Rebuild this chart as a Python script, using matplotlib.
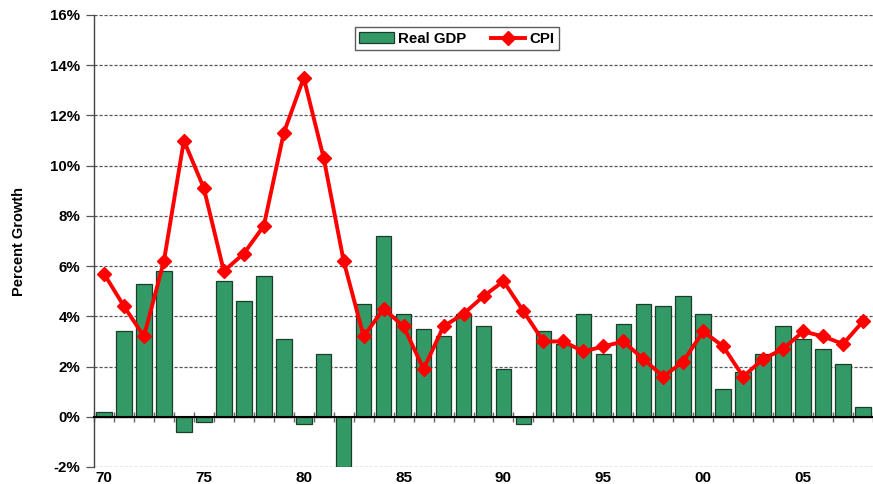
import matplotlib
matplotlib.use("Agg")
import matplotlib.pyplot as plt
import numpy as np

years = list(range(1970, 2009))
real_gdp = [0.2, 3.4, 5.3, 5.8, -0.6, -0.2, 5.4, 4.6, 5.6, 3.1,
            -0.3, 2.5, -2.0, 4.5, 7.2, 4.1, 3.5, 3.2, 4.1, 3.6,
            1.9, -0.3, 3.4, 2.9, 4.1, 2.5, 3.7, 4.5, 4.4, 4.8,
            4.1, 1.1, 1.8, 2.5, 3.6, 3.1, 2.7, 2.1, 0.4]
cpi = [5.7, 4.4, 3.2, 6.2, 11.0, 9.1, 5.8, 6.5, 7.6, 11.3,
       13.5, 10.3, 6.2, 3.2, 4.3, 3.6, 1.9, 3.6, 4.1, 4.8,
       5.4, 4.2, 3.0, 3.0, 2.6, 2.8, 3.0, 2.3, 1.6, 2.2,
       3.4, 2.8, 1.6, 2.3, 2.7, 3.4, 3.2, 2.9, 3.8]
xtick_years = [1970, 1975, 1980, 1985, 1990, 1995, 2000, 2005]
xtick_labels = ["70", "75", "80", "85", "90", "95", "00", "05"]
ytick_vals = list(range(-2, 17, 2))
ytick_labels = [f"{v}%" for v in ytick_vals]

plt.rcParams['font.family'] = ['Liberation Sans', 'DejaVu Sans']
plt.rcParams['font.weight'] = 'bold'

fig = plt.figure(figsize=(8.73, 4.84), dpi=100)
ax = fig.add_axes([94/873, 17/484, 1 - 94/873, 452/484])

bars = ax.bar(years, real_gdp, width=0.78, color="#339966", edgecolor="#1c3d2a",
              linewidth=0.9, label="Real GDP", zorder=3)
line, = ax.plot(years, cpi, color="#FF0000", lw=2.8, marker="D", markersize=7.5,
                markeredgecolor="#FF0000", label="CPI", zorder=4, clip_on=False)

ax.set_xlim(1969.5, 2008.07)
ax.set_ylim(-2, 16)
ax.set_yticks(ytick_vals)
ax.set_yticklabels(ytick_labels, fontsize=10.8, fontweight='bold')
ax.yaxis.grid(True, linestyle=(0, (2.5, 1.5)), color="#555555", linewidth=0.9, zorder=0)
ax.tick_params(axis='y', direction='out', length=6, width=0.9, color="#555555", pad=4)

for s in ['top', 'right']:
    ax.spines[s].set_visible(False)
ax.spines['left'].set_color("#444444")
ax.spines['left'].set_linewidth(1.0)
ax.spines['bottom'].set_position(('data', 0))
ax.spines['bottom'].set_color("black")
ax.spines['bottom'].set_linewidth(1.5)
ax.spines['bottom'].set_zorder(5)

ax.set_xticks(np.arange(1969.5, 2009, 1))
ax.tick_params(axis='x', direction='inout', length=7, width=1.0, color="#666666",
               labelbottom=False)

sec = ax.secondary_xaxis(0.0)
sec.set_xticks(xtick_years)
sec.set_xticklabels(xtick_labels, fontsize=11, fontweight='bold')
sec.tick_params(axis='x', length=0, pad=3)
sec.spines['bottom'].set_visible(False)

ax.set_ylabel("Percent Growth", fontsize=10.5, fontweight='bold')
ax.yaxis.set_label_coords(-(94 - 26) / 779, 0.5)

leg = ax.legend([bars, line], ["Real GDP", "CPI"], loc='center',
                bbox_to_anchor=(0.466, 0.947), ncol=2,
                prop={'weight': 'bold', 'size': 10.8}, frameon=True, fancybox=False,
                edgecolor="#333333", handlelength=2.3, handletextpad=0.3,
                columnspacing=1.6, borderpad=0.3, borderaxespad=0)
leg.get_frame().set_linewidth(1.0)
leg.set_zorder(6)

fig.savefig("out.png", dpi=100)
